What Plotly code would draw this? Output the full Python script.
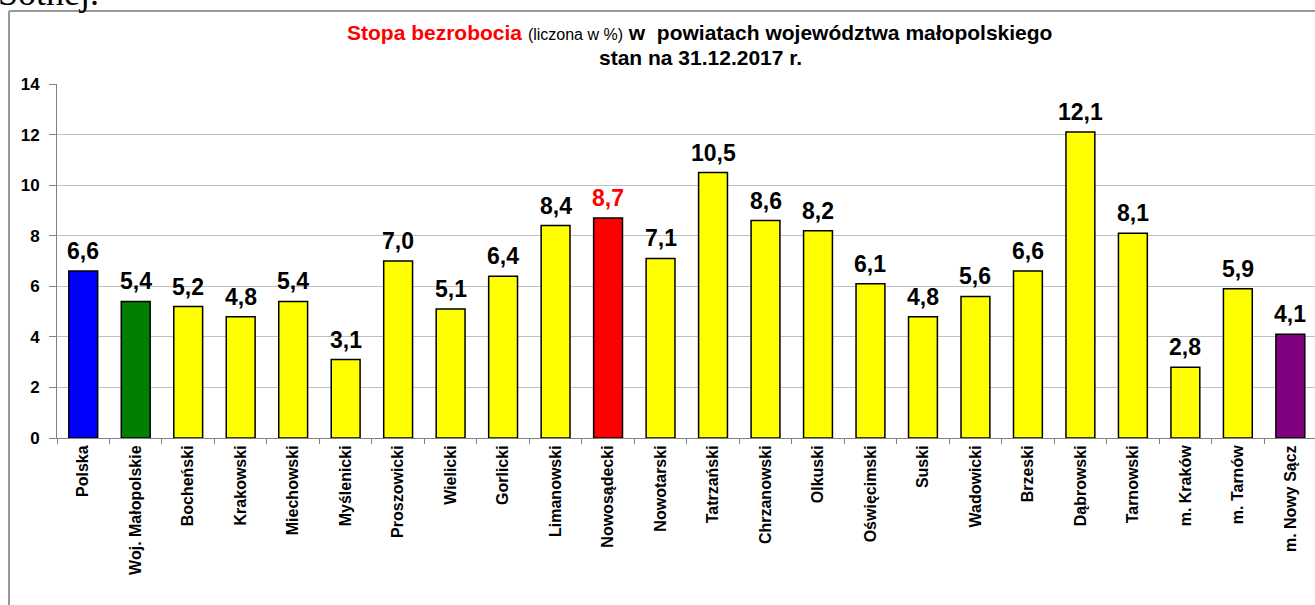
import plotly.graph_objects as go

categories = ["Polska", "Woj. Małopolskie", "Bocheński", "Krakowski", "Miechowski",
              "Myślenicki", "Proszowicki", "Wielicki", "Gorlicki", "Limanowski",
              "Nowosądecki", "Nowotarski", "Tatrzański", "Chrzanowski", "Olkuski",
              "Oświęcimski", "Suski", "Wadowicki", "Brzeski", "Dąbrowski",
              "Tarnowski", "m. Kraków", "m. Tarnów", "m. Nowy Sącz"]
values = [6.6, 5.4, 5.2, 4.8, 5.4, 3.1, 7.0, 5.1, 6.4, 8.4, 8.7, 7.1, 10.5, 8.6,
          8.2, 6.1, 4.8, 5.6, 6.6, 12.1, 8.1, 2.8, 5.9, 4.1]
bar_colors = ["#0000FF", "#008000"] + ["#FFFF00"] * 8 + ["#FF0000"] + ["#FFFF00"] * 12 + ["#800080"]
label_colors = ["#000000"] * 10 + ["#FF0000"] + ["#000000"] * 13
y_ticks = [0, 2, 4, 6, 8, 10, 12, 14]

W, H = 1315, 605
ML, MR, MT, MB = 57, 0, 84, 167
PW, PH = W - ML - MR, H - MT - MB

def px_x(p):
    return (p - ML) / PW

def px_y(p):
    return (H - MB - p) / PH

FONT = "Liberation Sans, Arial"

fig = go.Figure()
fig.add_trace(go.Bar(
    x=categories, y=values, width=0.55,
    marker=dict(color=bar_colors, line=dict(color="#000000", width=1.5)),
    hoverinfo="x+y",
))

for c, v, lc in zip(categories, values, label_colors):
    fig.add_annotation(x=c, y=v, text=f"<b>{v:.1f}</b>".replace(".", ","),
                       showarrow=False, yanchor="bottom", yshift=5,
                       font=dict(family=FONT, size=23, color=lc))

title_1 = ('<b><span style="color:#FF0000">Stopa bezrobocia</span></b> '
           '<span style="font-size:16px">(liczona w %)</span> '
           '<b>w  powiatach województwa małopolskiego</b>')
title_2 = '<b>stan na 31.12.2017 r.</b>'
fig.add_annotation(xref="paper", yref="paper", x=px_x(699), y=px_y(33),
                   text=title_1, showarrow=False, xanchor="center", yanchor="middle",
                   font=dict(family=FONT, size=21, color="#000000"))
fig.add_annotation(xref="paper", yref="paper", x=px_x(700), y=px_y(58),
                   text=title_2, showarrow=False, xanchor="center", yanchor="middle",
                   font=dict(family=FONT, size=21, color="#000000"))

# partial text cut off at the top of the page
fig.add_annotation(xref="paper", yref="paper", x=px_x(-4), y=px_y(-7),
                   text="Sothej.", showarrow=False, xanchor="left", yanchor="middle",
                   font=dict(family="Liberation Serif, Times New Roman", size=36, color="#000000"))

# chart frame
fig.add_shape(type="line", xref="paper", yref="paper",
              x0=px_x(9), x1=px_x(9), y0=px_y(11), y1=px_y(610),
              line=dict(color="#999999", width=2))
fig.add_shape(type="line", xref="paper", yref="paper",
              x0=px_x(9), x1=px_x(1320), y0=px_y(11), y1=px_y(11),
              line=dict(color="#999999", width=2))

fig.update_layout(
    width=W, height=H,
    margin=dict(l=ML, r=MR, t=MT, b=MB),
    paper_bgcolor="#FFFFFF", plot_bgcolor="#FFFFFF",
    showlegend=False,
    font=dict(family=FONT, color="#000000"),
    xaxis=dict(
        range=[-0.5, 23.47],
        tickangle=-90, tickson="boundaries", ticks="outside", ticklen=5,
        tickcolor="#808080", tickwidth=1,
        showline=True, linecolor="#808080", linewidth=1,
        showgrid=False,
        tickfont=dict(family=FONT, size=16, color="#000000", weight="bold"),
    ),
    yaxis=dict(
        range=[0, 14], tickvals=y_ticks, ticktext=[str(t) for t in y_ticks],
        ticks="outside", ticklen=7, tickcolor="#808080", tickwidth=1,
        showline=True, linecolor="#808080", linewidth=1,
        showgrid=True, gridcolor="#C0C0C0", gridwidth=1,
        zeroline=False,
        tickfont=dict(family=FONT, size=17, color="#000000", weight="bold"),
        ticklabelstandoff=6,
    ),
)

fig.write_html("out.html",
               config={"displayModeBar": False},
               post_script="document.body.style.margin='0';"
                           "document.body.style.overflow='hidden';"
                           "document.documentElement.style.overflow='hidden';")
